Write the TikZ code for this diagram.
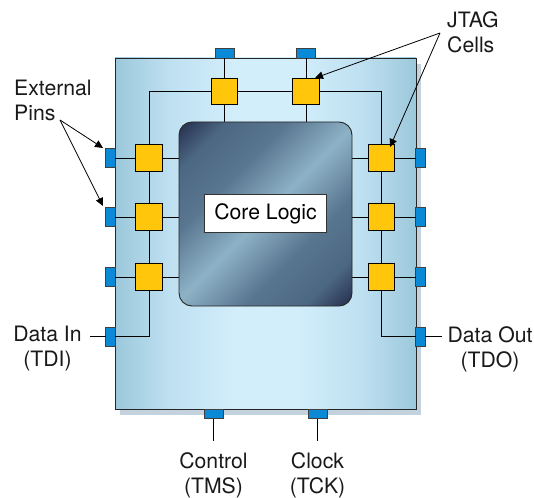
\documentclass[tikz,border=0pt]{standalone}
\usepackage{fontspec}
\setmainfont{TeX Gyre Heros}
\usetikzlibrary{arrows.meta}
\definecolor{chipedge}{HTML}{9CC8DB}
\definecolor{chipmid}{HTML}{BEE0F1}
\definecolor{chiplite}{HTML}{D3EEFB}
\definecolor{coredark}{HTML}{26304F}
\definecolor{coremid}{HTML}{4C6782}
\definecolor{corelite}{HTML}{8DB2C6}
\definecolor{cellfill}{HTML}{FFC60B}
\definecolor{pinfill}{HTML}{0A8AD6}
\definecolor{shadowc}{HTML}{C3D2DC}
\pgfdeclarehorizontalshading{chipshade}{100bp}{
 color(0bp)=(chipedge); color(25bp)=(chipedge); color(34bp)=(chipmid); color(45bp)=(chiplite); color(55bp)=(chiplite); color(66bp)=(chipmid); color(75bp)=(chipedge); color(100bp)=(chipedge)}
\pgfdeclareverticalshading{coreshade}{100bp}{
 color(0bp)=(coredark); color(15bp)=(coredark); color(24bp)=(coremid); color(36bp)=(coremid!80!corelite); color(50bp)=(corelite); color(64bp)=(coremid!80!corelite); color(76bp)=(coremid); color(85bp)=(coredark); color(100bp)=(coredark)}
\tikzset{
 x=1pt,y=-1pt,
 chipbox/.style={draw=black!85,line width=.9pt,shading=chipshade},
 corebox/.style={shading=coreshade,shading angle=45,draw=black!85,line width=.9pt,rounded corners=13pt},
 cell/.style={draw=black,line width=1.4pt,fill=cellfill,minimum size=26.5pt,inner sep=0pt,outer sep=0pt},
 pinh/.style={draw=black!75,line width=.8pt,fill=pinfill,minimum width=19pt,minimum height=9.5pt,inner sep=0pt,outer sep=0pt},
 pinv/.style={draw=black!75,line width=.8pt,fill=pinfill,minimum width=9.5pt,minimum height=19pt,inner sep=0pt,outer sep=0pt},
 wire/.style={draw=black,line width=.8pt},
 callout/.style={draw=black,line width=.8pt,-{Triangle[length=8pt,width=7.5pt]}},
 lbl/.style={font=\fontsize{21.2}{25}\selectfont,align=center,inner sep=0pt,text=black!90},
}
\begin{document}
\begin{tikzpicture}
\useasboundingbox (0,0) rectangle (534,497);
% shadow and chip
\fill[shadowc] (120,64) rectangle (421,415);
\path[chipbox] (115,58) rectangle (416,409.5);
% anchors on the core's edge
\coordinate (coreT1) at (224.5,122);
\coordinate (coreT2) at (306,122);
\coordinate (coreL1) at (179,158);
\coordinate (coreL2) at (179,217);
\coordinate (coreL3) at (179,277);
\coordinate (coreR1) at (352,158);
\coordinate (coreR2) at (352,217);
\coordinate (coreR3) at (352,277);
% pins
\node[pinh] (pt1) at (224.5,53.5) {};
\node[pinh] (pt2) at (306,53.5) {};
\node[pinh] (pb1) at (213.5,414) {};
\node[pinh] (pb2) at (317.5,414) {};
\node[pinv] (pl1) at (110.5,158) {};
\node[pinv] (pl2) at (110.5,217) {};
\node[pinv] (pl3) at (110.5,277) {};
\node[pinv] (pl4) at (110.5,336.5) {};
\node[pinv] (pr1) at (420.5,158) {};
\node[pinv] (pr2) at (420.5,217) {};
\node[pinv] (pr3) at (420.5,277) {};
\node[pinv] (pr4) at (420.5,336.5) {};
% cells
\node[cell] (ct1) at (224.5,91.5) {};
\node[cell] (ct2) at (306,91.5) {};
\node[cell] (cl1) at (149,158) {};
\node[cell] (cl2) at (149,217) {};
\node[cell] (cl3) at (149,277) {};
\node[cell] (cr1) at (381.5,158) {};
\node[cell] (cr2) at (381.5,217) {};
\node[cell] (cr3) at (381.5,277) {};
% wires
\path[wire] (pt1) -- (ct1) (ct1) -- (coreT1) (pt2) -- (ct2) (ct2) -- (coreT2);
\path[wire] (pl1) -- (cl1) (cl1) -- (coreL1) (pl2) -- (cl2) (cl2) -- (coreL2) (pl3) -- (cl3) (cl3) -- (coreL3);
\path[wire] (pr1) -- (cr1) (cr1) -- (coreR1) (pr2) -- (cr2) (cr2) -- (coreR2) (pr3) -- (cr3) (cr3) -- (coreR3);
\path[wire] (ct1) -- (ct2) (cl1) |- (ct1) (cr1) |- (ct2);
\path[wire] (cl1) -- (cl2) (cl2) -- (cl3) (cr1) -- (cr2) (cr2) -- (cr3);
\path[wire] (cl3) |- (pl4) (cr3) |- (pr4);
% core
\path[corebox] (179,122) rectangle (352,306);
\node[draw=black!80,line width=.8pt,fill=white,minimum width=122pt,minimum height=38.5pt,inner sep=0pt,font=\fontsize{21.2}{25}\selectfont] (core) at (265.5,213.5) {Core Logic};
% external wires
\coordinate (tdiEnd) at (90,336.5);
\coordinate (tdoEnd) at (442,336.5);
\coordinate (tmsEnd) at (213.5,441);
\coordinate (tckEnd) at (317.5,441);
\path[wire] (tdiEnd) -- (pl4) (pr4) -- (tdoEnd) (pb1) -- (tmsEnd) (pb2) -- (tckEnd);
% labels
\node[lbl,align=left,anchor=north west] (ext) at (14,80) {External\\Pins};
\node[lbl,align=left,anchor=north west] (jtag) at (447,11) {JTAG\\Cells};
\node[lbl] (tdi) at (47.5,349) {Data In\\(TDI)};
\node[lbl] (tdo) at (490,349) {Data Out\\(TDO)};
\node[lbl] (tms) at (213.5,475.3) {Control\\(TMS)};
\node[lbl] (tck) at (317.5,475.3) {Clock\\(TCK)};
% callouts
\coordinate (extA) at (60,120);
\coordinate (extT1) at (103,148);
\coordinate (extT2) at (103,206);
\coordinate (jtagA) at (440,33);
\coordinate (jtagT1) at (315,78);
\coordinate (jtagT2) at (390,147);
\path[callout] (extA) -- (extT1);
\path[callout] (extA) -- (extT2);
\path[callout] (jtagA) -- (jtagT1);
\path[callout] (jtagA) -- (jtagT2);
\end{tikzpicture}
\end{document}
